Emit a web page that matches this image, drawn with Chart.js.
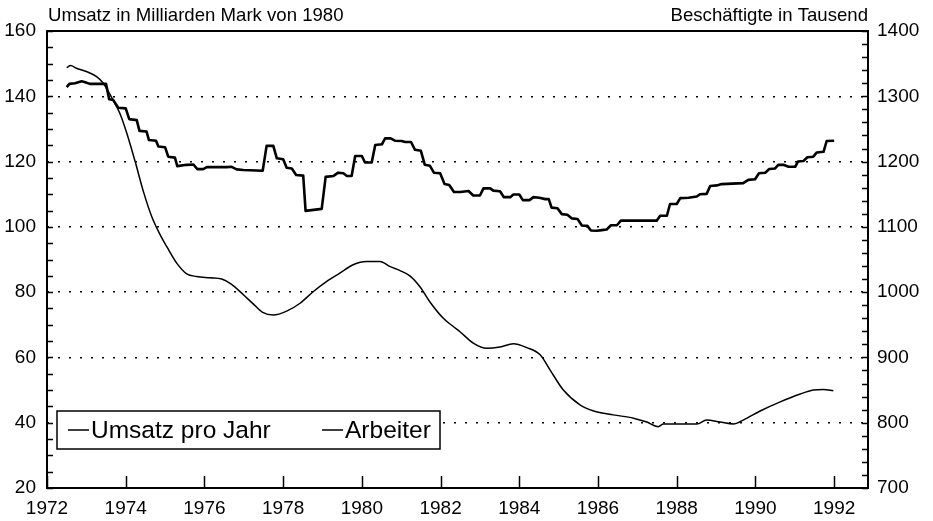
<!DOCTYPE html>
<html lang="de">
<head>
<meta charset="utf-8">
<title>Umsatz und Beschäftigte 1972–1992</title>
<script src="https://cdn.jsdelivr.net/npm/chart.js@4.4.1/dist/chart.umd.min.js"></script>
<style>
  html, body { margin:0; padding:0; background:#fff; }
  #wrap { width:933px; height:521px; }
</style>
</head>
<body>
<div id="wrap"><canvas id="chart" width="933" height="521"></canvas></div>
<script>
/* ── Achsen / Beschriftung ── */
const leftTitle  = 'Umsatz in Milliarden Mark von 1980';
const rightTitle = 'Beschäftigte in Tausend';
const yearTicks  = [1972, 1974, 1976, 1978, 1980, 1982, 1984, 1986, 1988, 1990, 1992];
const leftTicks  = [20, 40, 60, 80, 100, 120, 140, 160];
const rightTicks = [700, 800, 900, 1000, 1100, 1200, 1300, 1400];

/* ── Umsatz pro Jahr (linke Achse) ── */
const umsatzJahre = [
  1972.50, 1972.57, 1972.71, 1972.88, 1972.95, 1973.09, 1973.50, 1973.58, 1973.68, 1973.81,
  1974.00, 1974.09, 1974.28, 1974.35, 1974.53, 1974.59, 1974.77, 1974.83, 1975.00, 1975.08,
  1975.25, 1975.31, 1975.55, 1975.72, 1975.82, 1975.97, 1976.06, 1976.57, 1976.69, 1976.82,
  1976.99, 1977.48, 1977.58, 1977.75, 1977.84, 1978.00, 1978.09, 1978.22, 1978.33, 1978.51,
  1978.57, 1978.77, 1978.98, 1979.08, 1979.28, 1979.40, 1979.53, 1979.62, 1979.74, 1979.83,
  1980.00, 1980.08, 1980.25, 1980.34, 1980.51, 1980.59, 1980.73, 1980.84, 1981.01, 1981.10,
  1981.25, 1981.35, 1981.50, 1981.60, 1981.73, 1981.83, 1981.99, 1982.10, 1982.22, 1982.34,
  1982.50, 1982.71, 1982.83, 1983.00, 1983.09, 1983.26, 1983.34, 1983.51, 1983.61, 1983.77,
  1983.85, 1984.00, 1984.09, 1984.26, 1984.36, 1984.51, 1984.66, 1984.75, 1984.82, 1984.97,
  1985.08, 1985.22, 1985.33, 1985.48, 1985.59, 1985.73, 1985.82, 1985.97, 1986.10, 1986.22,
  1986.33, 1986.48, 1986.58, 1987.49, 1987.58, 1987.75, 1987.83, 1988.00, 1988.09, 1988.30,
  1988.51, 1988.59, 1988.76, 1988.85, 1989.02, 1989.14, 1989.69, 1989.82, 1989.99, 1990.09,
  1990.25, 1990.35, 1990.50, 1990.58, 1990.71, 1990.84, 1991.01, 1991.08, 1991.22, 1991.32,
  1991.47, 1991.56, 1991.73, 1991.81, 1992.00
];
const umsatzWerte = [
  142.8, 143.8, 144.0, 144.6, 144.4, 143.8, 143.8, 139.1, 138.9, 136.5,
  136.3, 133.0, 132.7, 129.4, 129.2, 126.6, 126.4, 124.6, 124.4, 121.5,
  121.2, 118.6, 119.0, 119.1, 117.7, 117.7, 118.3, 118.3, 118.4, 117.6,
  117.4, 117.2, 124.8, 124.8, 121.0, 120.7, 118.1, 117.9, 115.9, 115.7,
  104.9, 105.2, 105.5, 115.3, 115.6, 116.6, 116.4, 115.6, 115.6, 121.7,
  121.7, 119.7, 119.7, 125.1, 125.3, 127.1, 127.1, 126.4, 126.3, 126.0,
  126.0, 123.6, 123.3, 119.0, 118.7, 116.6, 116.4, 113.1, 112.8, 110.7,
  110.7, 111.0, 109.6, 109.6, 111.8, 111.8, 111.1, 110.9, 109.1, 109.1,
  109.9, 109.9, 108.2, 108.2, 109.1, 108.9, 108.5, 108.5, 105.9, 105.7,
  103.9, 103.7, 102.6, 102.4, 100.4, 100.3,  98.9,  98.8,  99.0,  99.2,
  100.5, 100.5, 101.9, 101.9, 103.4, 103.4, 107.0, 107.0, 108.8, 108.9,
  109.3, 110.0, 110.1, 112.5, 112.7, 113.1, 113.4, 114.4, 114.6, 116.4,
  116.6, 117.7, 117.9, 119.0, 119.0, 118.4, 118.4, 120.0, 120.2, 121.3,
  121.5, 122.8, 123.0, 126.3, 126.4
];

/* ── Arbeiter (rechte Achse) ── */
const arbeiterJahre = [
  1972.50, 1972.60, 1972.75, 1973.00, 1973.26, 1973.43, 1973.56, 1973.68, 1973.85, 1974.03,
  1974.24, 1974.45, 1974.66, 1974.90, 1975.04, 1975.30, 1975.55, 1975.80, 1976.14, 1976.44,
  1976.69, 1976.99, 1977.24, 1977.48, 1977.75, 1978.09, 1978.43, 1978.77, 1979.10, 1979.44,
  1979.78, 1980.12, 1980.46, 1980.72, 1980.97, 1981.22, 1981.48, 1981.73, 1982.07, 1982.33,
  1982.50, 1982.83, 1983.17, 1983.51, 1983.85, 1984.19, 1984.53, 1984.78, 1985.12, 1985.55,
  1985.89, 1986.39, 1986.90, 1987.24, 1987.53, 1987.66, 1988.51, 1988.76, 1989.10, 1989.44,
  1989.69, 1990.12, 1990.63, 1991.14, 1991.47, 1991.73, 1991.98
];
const arbeiterWerte = [
  1344, 1347, 1343, 1338, 1330, 1320, 1307, 1294, 1274, 1243,
  1200, 1154, 1116, 1085, 1070, 1044, 1028, 1024, 1022, 1020,
  1012,  996,  982,  969,  965,  971,  983, 1001, 1016, 1029,
  1042, 1047, 1047, 1039, 1033, 1025, 1008,  985,  960,  947,
   939,  922,  914,  916,  921,  915,  904,  881,  850,  827,
   818,  812,  807,  801,  794,  798,  798,  804,  801,  798,
   804,  818,  832,  844,  850,  851,  849
];

const FONT = '"Liberation Sans", Arial, Helvetica, sans-serif';
Chart.defaults.font.family = FONT;
Chart.defaults.font.size = 19;
Chart.defaults.color = '#000';

/* ── Rahmen, Innenstriche, Achsentitel, Legende ── */
const decoPlugin = {
  id: 'deco',
  afterDatasetsDraw(chart) {
    const { ctx, chartArea: a, scales } = chart;
    ctx.save();
    ctx.strokeStyle = '#000';

    // Innenstriche
    ctx.lineWidth = 1.5;
    ctx.beginPath();
    for (let v = 20; v <= 160; v += 5) {
      const y = Math.round(scales.y.getPixelForValue(v)) + 0.5;
      ctx.moveTo(a.left, y); ctx.lineTo(a.left + 6, y);
    }
    for (let v = 700; v <= 1400; v += 20) {
      const y = Math.round(scales.y2.getPixelForValue(v)) + 0.5;
      ctx.moveTo(a.right, y); ctx.lineTo(a.right - 6, y);
    }
    yearTicks.forEach(yr => {
      const x = Math.round(scales.x.getPixelForValue(yr)) + 0.5;
      ctx.moveTo(x, a.bottom); ctx.lineTo(x, a.bottom - 12);
    });
    ctx.stroke();

    // Rahmen
    ctx.lineWidth = 2;
    ctx.strokeRect(a.left, a.top, a.right - a.left, a.bottom - a.top);

    // Achsentitel
    ctx.fillStyle = '#000';
    ctx.font = '18.6px ' + FONT;
    ctx.textBaseline = 'alphabetic';
    ctx.textAlign = 'left';
    ctx.fillText(leftTitle, a.left + 1, 21);
    ctx.textAlign = 'right';
    ctx.fillText(rightTitle, a.right, 21);

    // Legende
    const bx = a.left + 10, by = a.bottom - 77, bw = 383, bh = 38;
    ctx.fillStyle = '#fff';
    ctx.fillRect(bx, by, bw, bh);
    ctx.lineWidth = 1.5;
    ctx.strokeRect(bx, by, bw, bh);
    ctx.font = '24.5px ' + FONT;
    ctx.textAlign = 'left';
    ctx.textBaseline = 'middle';
    ctx.fillStyle = '#000';
    const items = [
      { ds: chart.data.datasets[0], x: bx + 11 },
      { ds: chart.data.datasets[1], x: bx + 265 }
    ];
    const ly = by + bh / 2;
    items.forEach(it => {
      ctx.beginPath();
      ctx.moveTo(it.x, ly); ctx.lineTo(it.x + 21, ly);
      ctx.stroke();
      ctx.fillText(it.ds.label, it.x + 23, ly + 1);
    });
    ctx.restore();
  }
};

new Chart(document.getElementById('chart'), {
  type: 'line',
  data: {
    datasets: [
      {
        label: 'Umsatz pro Jahr',
        data: umsatzJahre.map((x, i) => ({ x, y: umsatzWerte[i] })),
        yAxisID: 'y',
        borderColor: '#000',
        borderWidth: 2.6,
        pointRadius: 0,
        tension: 0,
        borderJoinStyle: 'round'
      },
      {
        label: 'Arbeiter',
        data: arbeiterJahre.map((x, i) => ({ x, y: arbeiterWerte[i] })),
        yAxisID: 'y2',
        borderColor: '#000',
        borderWidth: 1.5,
        pointRadius: 0,
        cubicInterpolationMode: 'monotone'
      }
    ]
  },
  options: {
    responsive: false,
    animation: false,
    layout: { padding: { top: 31, left: 0, right: 0, bottom: 0 } },
    plugins: { legend: { display: false }, tooltip: { enabled: false } },
    scales: {
      x: {
        type: 'linear',
        min: 1972,
        max: 1992.86,
        afterBuildTicks: s => { s.ticks = yearTicks.map(v => ({ value: v })); },
        afterFit: s => { s.height = 33; },
        ticks: { callback: v => String(v), maxRotation: 0, autoSkip: false, padding: 9 },
        grid: { display: false, drawTicks: false },
        border: { display: false }
      },
      y: {
        position: 'left',
        min: 20,
        max: 160,
        afterBuildTicks: s => { s.ticks = leftTicks.map(v => ({ value: v })); },
        afterFit: s => { s.width = 47; },
        ticks: { callback: v => String(v), padding: 11 },
        grid: {
          drawTicks: false,
          lineWidth: 1.5,
          color: c => (c.tick && (c.tick.value === 20 || c.tick.value === 160)) ? 'rgba(0,0,0,0)' : '#000'
        },
        border: { display: false, dash: [2, 9] }
      },
      y2: {
        position: 'right',
        min: 700,
        max: 1400,
        afterBuildTicks: s => { s.ticks = rightTicks.map(v => ({ value: v })); },
        afterFit: s => { s.width = 65; },
        ticks: { callback: v => String(v), padding: 9 },
        grid: { display: false, drawTicks: false },
        border: { display: false }
      }
    }
  },
  plugins: [decoPlugin]
});
</script>
</body>
</html>
